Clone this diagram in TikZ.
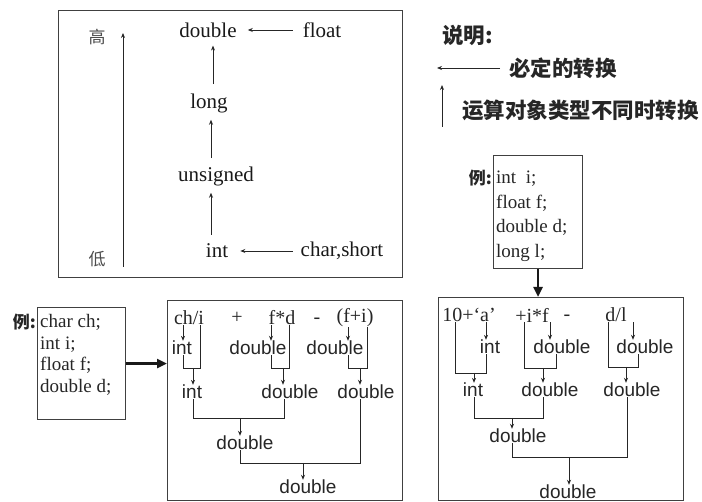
\documentclass[tikz,border=0pt]{standalone}
\usepackage{fontspec}
\setmainfont{Liberation Serif}
\newfontfamily\sans{Liberation Sans}
\newfontfamily\cjk{Noto Sans CJK SC}
\usetikzlibrary{arrows.meta}
\begin{document}
\begin{tikzpicture}[x=1pt,y=-1pt,
  every node/.style={text=black!85},
  tm/.style={font=\fontsize{20}{24}\selectfont, inner sep=0pt},
  tt/.style={font=\fontsize{21}{24}\selectfont, inner sep=0pt, text=black!90},
  ex/.style={font=\fontsize{19}{22}\selectfont, inner sep=0pt, align=left},
  sf/.style={font=\sans\fontsize{19}{22}\selectfont, inner sep=0pt},
  cjb/.style={font=\cjk\bfseries\fontsize{21.5}{24}\selectfont, inner sep=0pt},
  cjl/.style={font=\cjk\fontsize{17}{20}\selectfont, inner sep=0pt, text=black!70},
  arr/.style={draw=black!85, line width=0.8pt, -{Stealth[length=5pt,width=4pt]}},
  ln/.style={draw=black!85, line width=0.8pt},
  frame/.style={draw=black!75, line width=1.1pt, inner sep=0pt, anchor=north west},
  fat/.style={draw=black!90, line width=2.6pt, -{Triangle[length=10pt,width=9pt]}}]
\useasboundingbox (0,0) rectangle (702,502);

% ---------- top box: conversion ladder ----------
\node[frame, minimum width=344pt, minimum height=267pt] (topbox) at (58,10) {};
\node[tt] (dbl) at (208,30) {double};
\node[tt] (flt) at (322,30) {float};
\node[tt] (lng) at (209,103) {long};
\node[tt] (uns) at (216,176) {unsigned};
\node[tt] (int) at (217,251) {int};
\node[tt] (chs) at (342,251) {char,short};
\node[cjl] (gao) at (97,37) {高};
\node[cjl] (di) at (97,259) {低};
\coordinate (lowend) at (123,267);
\coordinate (highend) at (123,33);
\draw[arr] (lowend) -- (highend);
\draw[arr, shorten <=10pt, shorten >=11pt] (flt.west) -- (dbl.east);
\draw[arr, shorten <=8pt, shorten >=12pt] (chs.west) -- (int.east);
\draw[arr, shorten <=9pt, shorten >=7pt] (int.north -| 211,0) -- (uns.south -| 211,0);
\draw[arr, shorten <=8pt, shorten >=7pt] (uns.north -| 211,0) -- (lng.south -| 211,0);
\draw[arr, shorten <=9pt, shorten >=8pt] (lng.north -| 213,0) -- (dbl.south -| 213,0);

% ---------- legend ----------
\node[cjb, anchor=west] (sm) at (442,35) {说明:};
\coordinate (lg1s) at (500,68);
\coordinate (lg1e) at (437,68);
\draw[arr] (lg1s) -- (lg1e);
\node[cjb, anchor=west] (bd) at (509,68) {必定的转换};
\coordinate (lg2s) at (442,127);
\coordinate (lg2e) at (442,85);
\draw[arr] (lg2s) -- (lg2e);
\node[cjb, anchor=west] (ys) at (462,110) {运算对象类型不同时转换};

% ---------- example declarations ----------
\node[frame, minimum width=89pt, minimum height=113pt] (ex1box) at (493,155) {};
\node[ex, anchor=north west, font=\fontsize{19}{24.6}\selectfont] (ex1txt) at (496,171) {int~~i;\\float f;\\double d;\\long l;};
\node[cjb, font=\cjk\bfseries\fontsize{17}{20}\selectfont, anchor=east] (li1) at (492,178) {例:};

\node[frame, minimum width=88pt, minimum height=112pt] (ex2box) at (37,307) {};
\node[ex, anchor=north west, font=\fontsize{19}{21.7}\selectfont] (ex2txt) at (40,314) {char ch;\\int i;\\float f;\\double d;};
\node[cjb, font=\cjk\bfseries\fontsize{17}{20}\selectfont, anchor=east] (li2) at (36,322) {例:};

% ---------- middle evaluation box ----------
\node[frame, minimum width=235pt, minimum height=200pt] (mbox) at (167,300) {};
\draw[fat] (ex2box.east) -- (mbox.west |- ex2box.east);

\node[tm] (m1) at (189,318) {ch/i};
\node[tm] (mp) at (237,318) {+};
\node[tm] (m2) at (282,318) {f*d};
\node[tm] (mm) at (317,321) {-};
\node[tm] (m3) at (355,318) {(f+i)};
\node[sf] (a1) at (182,348) {int};
\node[sf] (a2) at (258,348) {double};
\node[sf] (a3) at (335,348) {double};
\node[sf] (b1) at (192,392) {int};
\node[sf] (b2) at (290,392) {double};
\node[sf] (b3) at (366,392) {double};
\node[sf] (c1) at (245,443) {double};
\node[sf] (d1) at (308,487) {double};

\coordinate (k1) at (183,368); \coordinate (k2) at (200,368); \coordinate (km1) at (193,368);
\draw[arr] (m1.south -| k1) -- (a1.north -| k1);
\draw[ln] (a1.south -| k1) -- (k1) -- (k2) -- (m1.south -| k2);
\draw[arr] (km1) -- (b1.north -| km1);

\coordinate (k3) at (271,368); \coordinate (k4) at (289,368); \coordinate (km2) at (283,368);
\draw[arr] (m2.south -| k3) -- (a2.north -| k3);
\draw[ln] (a2.south -| k3) -- (k3) -- (k4) -- (m2.south -| k4);
\draw[arr] (km2) -- (b2.north -| km2);

\coordinate (k5) at (348,368); \coordinate (k6) at (367,368); \coordinate (km3) at (360,368);
\draw[arr] (m3.south -| k5) -- (a3.north -| k5);
\draw[ln] (a3.south -| k5) -- (k5) -- (k6) -- (m3.south -| k6);
\draw[arr] (km3) -- (b3.north -| km3);

\coordinate (k7) at (193,418); \coordinate (k8) at (284,418); \coordinate (km4) at (240,418);
\draw[ln] (b1.south -| k7) -- (k7) -- (k8) -- (b2.south -| k8);
\draw[arr] (km4) -- (c1.north -| km4);

\coordinate (k9) at (240,463); \coordinate (k10) at (360,463); \coordinate (km5) at (303,463);
\draw[ln] (c1.south -| k9) -- (k9) -- (k10) -- (b3.south -| k10);
\draw[arr] (km5) -- (d1.north -| km5);

% ---------- right evaluation box ----------
\node[frame, minimum width=245pt, minimum height=203pt] (rbox) at (438,297) {};
\draw[fat] (ex1box.south) -- (ex1box.south |- rbox.north);

\node[tm] (r1) at (469,315) {10+‘a’};
\node[tm] (r2) at (532,315) {+i*f};
\node[tm] (r3) at (567,318) {-};
\node[tm] (r4) at (616,315) {d/l};
\node[sf] (e1) at (490,347) {int};
\node[sf] (e2) at (562,347) {double};
\node[sf] (e3) at (645,347) {double};
\node[sf] (f1) at (473,390) {int};
\node[sf] (f2) at (550,390) {double};
\node[sf] (f3) at (632,390) {double};
\node[sf] (g1) at (518,436) {double};
\node[sf] (h1) at (568,492) {double};

\coordinate (q1) at (455,373); \coordinate (q2) at (486,373); \coordinate (qm1) at (474,373);
\draw[arr] (r1.south -| q2) -- (e1.north -| q2);
\draw[ln] (e1.south -| q2) -- (q2) -- (q1) -- (r1.south -| q1);
\draw[arr] (qm1) -- (f1.north -| qm1);

\coordinate (q3) at (524,368); \coordinate (q4) at (556,368); \coordinate (qm2) at (543,368);
\coordinate (qa2) at (550,368);
\draw[arr] (r2.south -| qa2) -- (e2.north -| qa2);
\draw[ln] (r2.south -| q3) -- (q3) -- (q4) -- (e2.south -| q4);
\draw[arr] (qm2) -- (f2.north -| qm2);

\coordinate (q5) at (608,367); \coordinate (q6) at (638,367); \coordinate (qm3) at (626,367);
\coordinate (qa3) at (633,367);
\draw[arr] (r4.south -| qa3) -- (e3.north -| qa3);
\draw[ln] (r4.south -| q5) -- (q5) -- (q6) -- (e3.south -| q6);
\draw[arr] (qm3) -- (f3.north -| qm3);

\coordinate (q7) at (474,418); \coordinate (q8) at (543,418); \coordinate (qm4) at (512,418);
\draw[ln] (f1.south -| q7) -- (q7) -- (q8) -- (f2.south -| q8);
\draw[arr] (qm4) -- (g1.north -| qm4);

\coordinate (q9) at (512,457); \coordinate (q10) at (627,457); \coordinate (qm5) at (569,457);
\draw[ln] (g1.south -| q9) -- (q9) -- (q10) -- (f3.south -| q10);
\draw[arr] (qm5) -- (h1.north -| qm5);
\end{tikzpicture}
\end{document}
